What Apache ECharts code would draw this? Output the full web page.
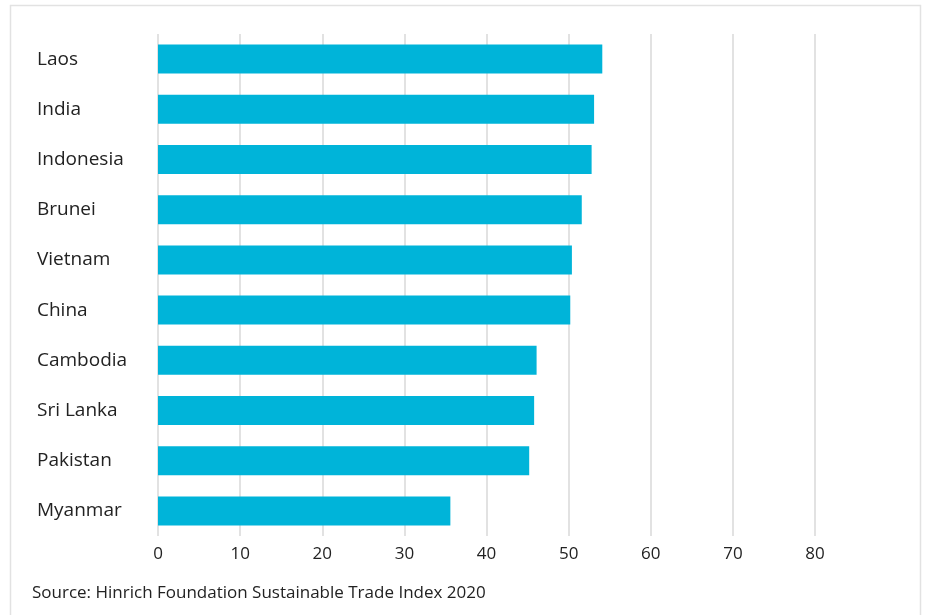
<!DOCTYPE html>
<html>
<head>
<meta charset="utf-8">
<script src="https://cdn.jsdelivr.net/npm/echarts@6/dist/echarts.min.js"></script>
<style>
  html, body { margin: 0; padding: 0; background: #fff; }
  #main { width: 928px; height: 615px; }
</style>
</head>
<body>
<div id="main"></div>
<script>
// countries, top to bottom
const countries = ['Laos', 'India', 'Indonesia', 'Brunei', 'Vietnam', 'China', 'Cambodia', 'Sri Lanka', 'Pakistan', 'Myanmar']
const scores = [54.1, 53.1, 52.8, 51.6, 50.4, 50.2, 46.1, 45.8, 45.2, 35.6]
const xTicks = [0, 10, 20, 30, 40, 50, 60, 70, 80]
const source = 'Source: Hinrich Foundation Sustainable Trade Index 2020'

const font = '"Open Sans", "Noto Sans", sans-serif'

let chart = echarts.init(document.getElementById('main'))

let options = {
  animation: false,
  graphic: [
    {
      // outer frame
      type: 'rect',
      shape: { x: 10.5, y: 5.5, width: 910, height: 640 },
      style: { fill: 'none', stroke: '#e2e2e2', lineWidth: 1.5 },
      silent: true
    },
    {
      type: 'text',
      left: 32,
      top: 585,
      style: { text: source, fill: '#222', font: '17px ' + font }
    }
  ],
  grid: {
    left: 158,
    right: 113,
    top: 34,
    bottom: 79
  },
  xAxis: {
    type: 'value',
    min: xTicks[0],
    max: xTicks[xTicks.length - 1],
    interval: 10,
    axisLine: { show: false },
    axisTick: { show: false },
    axisLabel: {
      color: '#222',
      fontSize: 17,
      fontFamily: font,
      margin: 10,
      formatter: v => xTicks.includes(v) ? String(v) : ''
    },
    splitLine: {
      show: true,
      lineStyle: { color: '#d9d9d9', width: 1.5 }
    }
  },
  yAxis: {
    type: 'category',
    inverse: true,
    data: countries,
    axisLine: { show: false },
    axisTick: { show: false },
    axisLabel: {
      color: '#222',
      fontSize: 19,
      fontFamily: font,
      align: 'left',
      margin: 121,
      padding: [0, 0, 6, 0]
    }
  },
  series: [
    {
      name: 'Score',
      type: 'bar',
      data: scores,
      barWidth: 29,
      itemStyle: { color: '#00b4d9' }
    }
  ]
}

chart.setOption(options)
</script>
</body>
</html>
